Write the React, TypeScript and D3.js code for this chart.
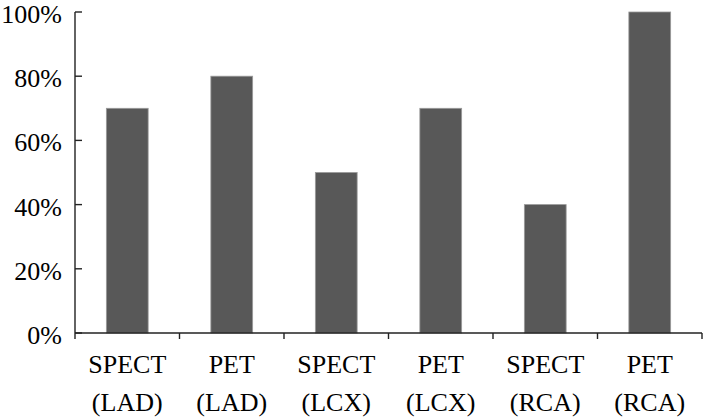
import React, { useEffect, useState } from "react";
import { scaleBand, scaleLinear } from "d3";

const categories = ["SPECT (LAD)", "PET (LAD)", "SPECT (LCX)", "PET (LCX)", "SPECT (RCA)", "PET (RCA)"];
const values = [70, 80, 50, 70, 40, 100];
const yTicks = [0, 20, 40, 60, 80, 100];

const width = 703;
const height = 417;
const margins = { top: 12, right: 1, bottom: 84, left: 75 };
const fontFamily = '"Liberation Serif", "Times New Roman", Tinos, serif';
const axisColor = "#222";

export default function App() {
  // re-render once the serif face is loaded, so the photo gets the right font
  const [fontKey, setFontKey] = useState(0);
  useEffect(() => {
    const fonts = (document as any).fonts;
    if (fonts && fonts.load) {
      fonts.load('26px "Liberation Serif"').then(() => setFontKey(k => k + 1)).catch(() => {});
    }
  }, []);

  const xScale = scaleBand<string>()
    .domain(categories)
    .range([margins.left, width - margins.right])
    .padding(0);
  const yScale = scaleLinear()
    .domain([0, 100])
    .range([height - margins.bottom, margins.top]);

  const barW = xScale.bandwidth() * 0.4;
  const y0 = yScale(0);
  const edges = categories.map(c => xScale(c)!).concat([width - margins.right]);
  const textStyle = { fontFamily, fontSize: "26px" };

  return (
    <svg
      key={fontKey}
      width={width}
      height={height}
      style={{ position: "absolute", left: 0, top: 0, background: "#fff", fontFamily, fontSize: "26px" }}
    >
      {/* bars */}
      {values.map((v, i) => (
        <rect
          key={categories[i]}
          x={xScale(categories[i])! + (xScale.bandwidth() - barW) / 2}
          y={yScale(v)}
          width={barW}
          height={y0 - yScale(v)}
          fill="#585858"
          stroke="#9a9a9a"
          strokeWidth={0.8}
        />
      ))}

      {/* y axis, ticks point inward */}
      <line x1={margins.left} x2={margins.left} y1={yScale(100)} y2={y0} stroke={axisColor} strokeWidth={1.4} />
      {yTicks.map(t => (
        <line key={t} x1={margins.left} x2={margins.left + 7} y1={yScale(t)} y2={yScale(t)} stroke={axisColor} strokeWidth={1.4} />
      ))}
      {yTicks.map(t => (
        <text key={"l" + t} x={margins.left - 13} y={yScale(t) + 11} textAnchor="end" style={textStyle}>
          {t}%
        </text>
      ))}

      {/* x axis, ticks on band edges */}
      <line x1={margins.left} x2={width - margins.right} y1={y0} y2={y0} stroke={axisColor} strokeWidth={1.4} />
      {edges.map((e, i) => (
        <line key={i} x1={e} x2={e} y1={y0} y2={y0 + 6} stroke={axisColor} strokeWidth={1.4} />
      ))}
      {categories.map(c => {
        const parts = c.split(" ");
        const cx = xScale(c)! + xScale.bandwidth() / 2;
        return (
          <g key={c}>
            <text x={cx} y={373} textAnchor="middle" style={textStyle}>{parts[0]}</text>
            <text x={cx} y={411} textAnchor="middle" style={textStyle}>{parts[1]}</text>
          </g>
        );
      })}
    </svg>
  );
}
